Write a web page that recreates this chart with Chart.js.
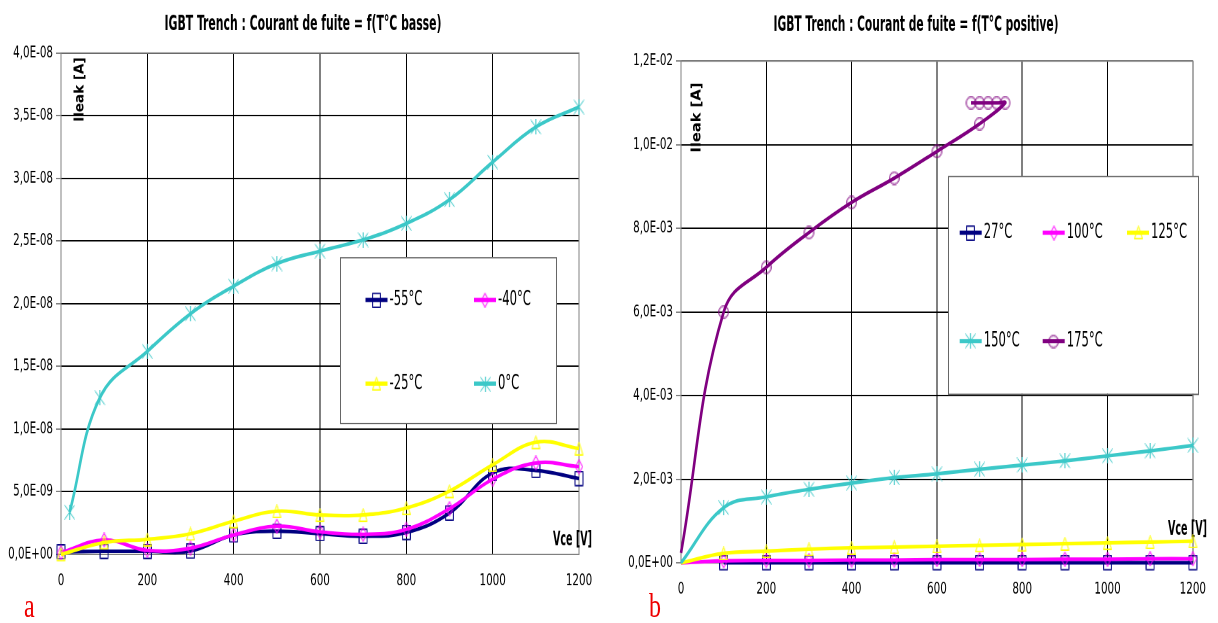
<!DOCTYPE html>
<html lang="fr">
<head>
  <meta charset="UTF-8">
  <title>IGBT Trench : Courant de fuite</title>
  <script src="https://cdn.jsdelivr.net/npm/chart.js"></script>
  <style>
    html, body { margin: 0; padding: 0; background: #fff; width: 1218px; height: 623px; overflow: hidden; }
    /* the source picture is stretched vertically, so the whole stage is too */
    #stage { position: absolute; left: 0; top: 0; width: 1218px; height: 445px; transform: scaleY(1.4); transform-origin: 0 0; }
    .panel { position: absolute; top: 0; width: 609px; height: 445px; }
    .tag { position: absolute; color: #e00; font: 24px/24px 'Liberation Serif', 'Times New Roman', serif; }
  </style>
</head>
<body>

<div id="stage">
  <div class="panel" style="left:0"><canvas id="lowChart"></canvas></div>
  <div class="panel" style="left:609px"><canvas id="highChart"></canvas></div>
  <div class="tag" style="left:24px; top:421px">a</div>
  <div class="tag" style="left:649px; top:421px">b</div>
</div>

<script>
  // ---- data : chart a (low temperatures) ----
  const VCE_LOW = [0, 100, 200, 300, 400, 500, 600, 700, 800, 900, 1000, 1100, 1200];
  const VCE_0C = [20, 90, 200, 300, 400, 500, 600, 700, 800, 900, 1000, 1100, 1200];
  const LOW_LABELS = ['-55°C', '-40°C', '-25°C', '0°C'];
  const I_M55 = [0.2e-9, 0.25e-9, 0.25e-9, 0.27e-9, 1.55e-9, 1.85e-9, 1.65e-9, 1.45e-9, 1.75e-9, 3.3e-9, 6.5e-9, 6.7e-9, 6.05e-9];
  const I_M40 = [0.15e-9, 1.15e-9, 0.32e-9, 0.5e-9, 1.55e-9, 2.25e-9, 1.8e-9, 1.6e-9, 2.0e-9, 3.65e-9, 6.0e-9, 7.3e-9, 7.0e-9];
  const I_M25 = [0, 0.95e-9, 1.2e-9, 1.65e-9, 2.65e-9, 3.45e-9, 3.15e-9, 3.15e-9, 3.7e-9, 5.05e-9, 7.15e-9, 8.95e-9, 8.45e-9];
  const I_0 = [3.37e-9, 1.25e-8, 1.62e-8, 1.92e-8, 2.14e-8, 2.32e-8, 2.42e-8, 2.51e-8, 2.64e-8, 2.83e-8, 3.13e-8, 3.41e-8, 3.57e-8];

  // ---- data : chart b (positive temperatures) ----
  const VCE_HIGH = [0, 100, 200, 300, 400, 500, 600, 700, 800, 900, 1000, 1100, 1200];
  const VCE_175 = [0, 100, 200, 300, 400, 500, 600, 700, 760, 740, 720, 700, 680];
  const HIGH_LABELS = ['27°C', '100°C', '125°C', '150°C', '175°C'];
  const I_27 = [null, 4e-6, 4e-6, 4e-6, 4e-6, 4e-6, 4e-6, 4e-6, 4e-6, 4e-6, 4e-6, 4e-6, 4e-6];
  const I_100 = [0, 5e-5, 6e-5, 6e-5, 7e-5, 7e-5, 8e-5, 8e-5, 8e-5, 9e-5, 9e-5, 1.0e-4, 1.0e-4];
  const I_125 = [0, 2.3e-4, 2.8e-4, 3.3e-4, 3.6e-4, 3.8e-4, 4.0e-4, 4.2e-4, 4.4e-4, 4.6e-4, 4.8e-4, 5.0e-4, 5.2e-4];
  const I_150 = [0, 1.32e-3, 1.58e-3, 1.76e-3, 1.91e-3, 2.04e-3, 2.13e-3, 2.24e-3, 2.34e-3, 2.44e-3, 2.56e-3, 2.68e-3, 2.81e-3];
  const I_175 = [2.4e-4, 6.0e-3, 7.07e-3, 7.9e-3, 8.62e-3, 9.2e-3, 9.84e-3, 1.05e-2, 1.1e-2, 1.1e-2, 1.1e-2, 1.1e-2, 1.1e-2];

  const NARROW = "'Liberation Sans Narrow', 'Arial Narrow', 'DejaVu Sans Condensed', sans-serif";
  Chart.defaults.font.family = NARROW;
  Chart.defaults.color = '#000';

  const NAVY = '#000080', PINK = '#ff00ff', YELLOW = '#ffff00', TURQ = '#3cc8c8', PURPLE = '#800080';

  // "1,5E-08" style labels, like the spreadsheet
  function sci(v) {
    if (Math.abs(v) < 1e-15) return '0,0E+00';
    const [m, e] = v.toExponential(1).split('e');
    const n = parseInt(e, 10);
    return m.replace('.', ',') + 'E' + (n < 0 ? '-' : '+') + String(Math.abs(n)).padStart(2, '0');
  }

  // text squeezed sideways, to get the narrow look of the original font
  function narrowText(ctx, text, x, y, font, sx, align, rot) {
    ctx.save();
    ctx.translate(x, y);
    if (rot) ctx.rotate(rot);
    ctx.font = font;
    if (sx < 0) sx = -sx / ctx.measureText(text).width;   // negative = fit to that width
    ctx.scale(sx, 1);
    ctx.fillStyle = '#000';
    ctx.textAlign = align; ctx.textBaseline = 'middle';
    ctx.fillText(text, 0, 0);
    ctx.restore();
  }

  // hollow markers as small canvases
  function marker(kind, color) {
    const c = document.createElement('canvas');
    const g = c.getContext('2d');
    const size = { square: [9, 11], diamond: [8, 11], triangle: [9, 10], star: [11, 11], circle: [11, 10], none: [1, 1] }[kind];
    c.width = size[0]; c.height = size[1];
    g.strokeStyle = color; g.lineWidth = 1;
    const w = c.width, h = c.height;
    g.beginPath();
    if (kind === 'square') g.rect(0.5, 0.5, w - 1, h - 1);
    if (kind === 'diamond') { g.moveTo(w / 2, 0.5); g.lineTo(w - 0.5, h / 2); g.lineTo(w / 2, h - 0.5); g.lineTo(0.5, h / 2); g.closePath(); }
    if (kind === 'triangle') { g.moveTo(w / 2, 0.5); g.lineTo(w - 0.5, h - 0.5); g.lineTo(0.5, h - 0.5); g.closePath(); }
    if (kind === 'star') { g.moveTo(0.5, 0.5); g.lineTo(w - 0.5, h - 0.5); g.moveTo(w - 0.5, 0.5); g.lineTo(0.5, h - 0.5); g.moveTo(w / 2, 0); g.lineTo(w / 2, h); }
    if (kind === 'circle') g.ellipse(w / 2, h / 2, w / 2 - 0.7, h / 2 - 0.7, 0, 0, Math.PI * 2);
    if (kind !== 'none') g.stroke();
    return c;
  }
  const NONE = marker('none', '#fff');

  function series(label, xs, ys, color, kind, order, skipFirst) {
    const img = marker(kind, color);
    return {
      label: label,
      data: xs.map((x, i) => ({ x: x, y: ys[i] })),
      borderColor: color,
      backgroundColor: color,
      borderWidth: 2.6,
      tension: 0.4,
      fill: false,
      order: order,
      clip: 12,
      pointStyle: skipFirst ? (c => c.dataIndex === 0 ? NONE : img) : img,
      legendMarker: img
    };
  }

  function axes(yMax, yStep, yWidth, xHeight) {
    return {
      x: {
        type: 'linear', min: 0, max: 1200,
        ticks: { stepSize: 200, padding: 12, font: { size: 11.5 }, maxRotation: 0, callback: v => String(v) },
        grid: { color: '#000', drawTicks: false },
        border: { color: '#808080' },
        afterFit: s => { s.height = xHeight; }
      },
      y: {
        min: 0, max: yMax,
        ticks: { stepSize: yStep, padding: 3, font: { size: 11.5 }, callback: v => sci(v) },
        grid: { color: '#000', tickLength: 5, tickColor: '#808080' },
        border: { color: '#808080' },
        afterFit: s => { s.width = yWidth; }
      }
    };
  }

  // frame, title and the "Ileak [A]" / "Vce [V]" notes written inside the plot
  const axisNotes = {
    id: 'axisNotes',
    beforeDatasetsDraw(chart, args, o) {
      const { ctx, chartArea: a } = chart;
      ctx.save();
      ctx.strokeStyle = '#808080'; ctx.lineWidth = 1;
      ctx.strokeRect(a.left, a.top, a.right - a.left, a.bottom - a.top);
      ctx.restore();
      narrowText(ctx, o.title, o.titleAt[0], o.titleAt[1], 'bold 15px ' + NARROW, -o.titleWidth, 'center');
      narrowText(ctx, 'Ileak [A]', o.ileak[0], o.ileak[1], 'bold 13px ' + NARROW, -o.ileakLength, 'center', -Math.PI / 2);
      narrowText(ctx, 'Vce [V]', o.vce[0], o.vce[1], 'bold 14px ' + NARROW, -39, 'right');
    }
  };

  // boxed legend sitting inside the plot area
  const insideLegend = {
    id: 'insideLegend',
    afterDatasetsDraw(chart, args, o) {
      const ctx = chart.ctx;
      const [bx, by, bw, bh] = o.box;
      ctx.save();
      ctx.fillStyle = '#fff';
      ctx.fillRect(bx, by, bw, bh);
      ctx.strokeStyle = '#666'; ctx.lineWidth = 1;
      ctx.strokeRect(bx + 0.5, by + 0.5, bw, bh);
      chart.data.datasets.forEach((ds, i) => {
        const [x, y] = o.slots[i];
        ctx.strokeStyle = ds.borderColor; ctx.lineWidth = 3;
        ctx.beginPath(); ctx.moveTo(x, y); ctx.lineTo(x + 22, y); ctx.stroke();
        const m = ds.legendMarker;
        ctx.drawImage(m, Math.round(x + 11 - m.width / 2), Math.round(y - m.height / 2));
        narrowText(ctx, ds.label, x + 24, y, '15px ' + NARROW, 0.86, 'left');
      });
      ctx.restore();
    }
  };

  new Chart(document.getElementById('lowChart'), {
    type: 'line',
    data: {
      datasets: [
        series(LOW_LABELS[0], VCE_LOW, I_M55, NAVY, 'square', 4, false),
        series(LOW_LABELS[1], VCE_LOW, I_M40, PINK, 'diamond', 3, false),
        series(LOW_LABELS[2], VCE_LOW, I_M25, YELLOW, 'triangle', 2, false),
        series(LOW_LABELS[3], VCE_0C, I_0, TURQ, 'star', 1, false)
      ]
    },
    options: {
      responsive: true,
      maintainAspectRatio: false,
      animation: false,
      devicePixelRatio: 2,
      layout: { padding: { left: 0, right: 30, top: 37.9, bottom: 0 } },
      scales: axes(4e-8, 5e-9, 61, 49),
      plugins: {
        legend: { display: false },
        tooltip: { enabled: false },
        title: { display: false },
        axisNotes: {
          title: 'IGBT Trench : Courant de fuite = f(T°C basse)', titleAt: [303, 17.5], titleWidth: 277,
          ileak: [80, 64], ileakLength: 46, vce: [592, 386]
        },
        insideLegend: {
          box: [340, 183.6, 216, 118.4],
          slots: [[365.5, 214.3], [474, 214.3], [365.5, 274], [474, 274]]
        }
      }
    },
    plugins: [axisNotes, insideLegend]
  });

  new Chart(document.getElementById('highChart'), {
    type: 'line',
    data: {
      datasets: [
        series(HIGH_LABELS[0], VCE_HIGH, I_27, NAVY, 'square', 5, true),
        series(HIGH_LABELS[1], VCE_HIGH, I_100, PINK, 'diamond', 4, true),
        series(HIGH_LABELS[2], VCE_HIGH, I_125, YELLOW, 'triangle', 3, true),
        series(HIGH_LABELS[3], VCE_HIGH, I_150, TURQ, 'star', 2, true),
        series(HIGH_LABELS[4], VCE_175, I_175, PURPLE, 'circle', 1, true)
      ]
    },
    options: {
      responsive: true,
      maintainAspectRatio: false,
      animation: false,
      devicePixelRatio: 2,
      layout: { padding: { left: 0, right: 25, top: 43.6, bottom: 0 } },
      scales: axes(1.2e-2, 2e-3, 72, 42.9),
      plugins: {
        legend: { display: false },
        tooltip: { enabled: false },
        title: { display: false },
        axisNotes: {
          title: 'IGBT Trench : Courant de fuite = f(T°C positive)', titleAt: [307, 17.9], titleWidth: 285,
          ileak: [88, 84], ileakLength: 50, vce: [598, 378.6]
        },
        insideLegend: {
          box: [339, 125.6, 250, 155.6],
          slots: [[350.7, 166.2], [433.7, 166.2], [518, 166.2], [350.7, 243.6], [433.7, 243.6]]
        }
      }
    },
    plugins: [axisNotes, insideLegend]
  });
</script>
</body>
</html>
